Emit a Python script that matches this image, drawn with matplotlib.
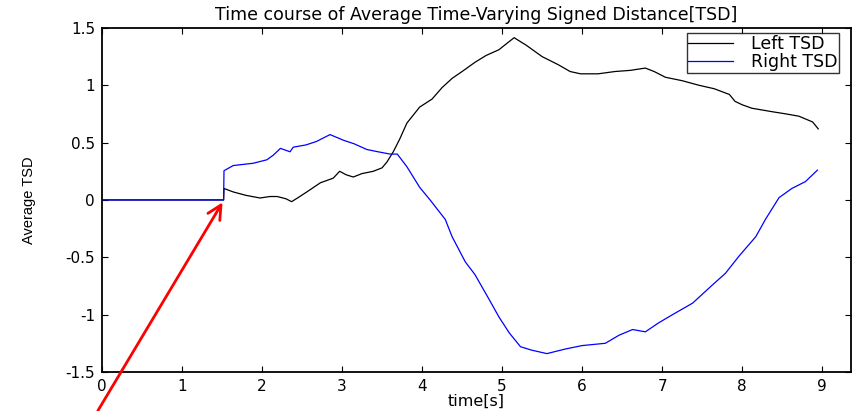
import numpy as np
import matplotlib
matplotlib.use('Agg')
import matplotlib.pyplot as plt

plt.rcParams['font.family'] = ['DejaVu Sans']

# Left TSD (black)
left_t = [0, 1.52, 1.525, 1.64, 1.8, 1.975, 2.1, 2.19, 2.3, 2.37, 2.45, 2.56, 2.73,
          2.89, 2.97, 3.05, 3.14, 3.25, 3.39, 3.5, 3.56, 3.64, 3.72, 3.81, 3.97, 4.125,
          4.25, 4.375, 4.5, 4.66, 4.8, 4.96, 5.05, 5.15, 5.3, 5.5, 5.7, 5.85, 5.98,
          6.2, 6.41, 6.6, 6.79, 6.9, 7.04, 7.25, 7.46, 7.65, 7.84, 7.91, 8.0, 8.12,
          8.37, 8.55, 8.71, 8.88, 8.95]
left_v = [0, 0, 0.10, 0.07, 0.04, 0.017, 0.03, 0.03, 0.01, -0.015, 0.02, 0.07, 0.15,
          0.19, 0.25, 0.22, 0.20, 0.23, 0.25, 0.28, 0.33, 0.42, 0.53, 0.67, 0.81, 0.88,
          0.98, 1.06, 1.12, 1.20, 1.26, 1.31, 1.36, 1.415, 1.35, 1.25, 1.18, 1.12, 1.10,
          1.10, 1.12, 1.13, 1.15, 1.12, 1.07, 1.04, 1.00, 0.97, 0.92, 0.86, 0.83, 0.80,
          0.77, 0.75, 0.73, 0.68, 0.62]

# Right TSD (blue)
right_t = [0, 1.52, 1.525, 1.64, 1.89, 2.06, 2.14, 2.23, 2.35, 2.39, 2.55, 2.68, 2.85,
           3.02, 3.15, 3.31, 3.45, 3.6, 3.69, 3.81, 3.97, 4.1, 4.29, 4.375, 4.54, 4.66,
           4.84, 4.96, 5.09, 5.23, 5.37, 5.56, 5.79, 6.0, 6.29, 6.46, 6.63, 6.79, 6.96,
           7.13, 7.38, 7.63, 7.79, 7.96, 8.17, 8.29, 8.46, 8.62, 8.79, 8.94]
right_v = [0, 0, 0.255, 0.30, 0.32, 0.35, 0.39, 0.45, 0.42, 0.46, 0.48, 0.51, 0.57,
           0.52, 0.49, 0.44, 0.42, 0.40, 0.40, 0.29, 0.11, 0.0, -0.17, -0.32, -0.54, -0.65,
           -0.87, -1.02, -1.16, -1.28, -1.31, -1.34, -1.30, -1.27, -1.25, -1.18, -1.13,
           -1.15, -1.07, -1.00, -0.90, -0.74, -0.64, -0.49, -0.32, -0.17, 0.02, 0.10,
           0.16, 0.26]

fig = plt.figure(figsize=(8.64, 4.11), dpi=100)
ax = fig.add_axes([0.118, 0.095, 0.867, 0.837])

ax.plot(left_t, left_v, color='black', lw=0.9, label='Left TSD')
ax.plot(right_t, right_v, color='blue', lw=0.9, label='Right TSD')

ax.set_xlim(0, 9.36)
ax.set_ylim(-1.5, 1.5)
ax.set_xticks(np.arange(0, 10, 1))
ax.set_yticks([-1.5, -1, -0.5, 0, 0.5, 1, 1.5])
ax.set_yticklabels(['-1.5', '-1', '-0.5', '0', '0.5', '1', '1.5'])
ax.tick_params(direction='in', top=True, right=True, length=4, labelsize=11, pad=5)
for s in ax.spines.values():
    s.set_linewidth(1.3)

ax.set_title('Time course of Average Time-Varying Signed Distance[TSD]', fontsize=12.5, pad=6)
ax.set_xlabel('time[s]', fontsize=11.5, labelpad=0)
ax.set_ylabel('Average TSD', fontsize=10.5,
              family=['Liberation Sans Narrow', 'Liberation Sans'], labelpad=21)

leg = ax.legend(loc='upper right', bbox_to_anchor=(0.984, 0.985), borderaxespad=0,
                fontsize=12.5, frameon=True, fancybox=False, edgecolor='black',
                handlelength=2.6, borderpad=0.1, labelspacing=0.0, handletextpad=1.0)
leg.get_frame().set_linewidth(1.0)

# red arrow pointing at the onset
ax.annotate('', xy=(1.525, 0), xytext=(-0.07, -1.86), xycoords='data',
            arrowprops=dict(arrowstyle='->', color='red', lw=2, mutation_scale=25),
            annotation_clip=False)

fig.savefig('out.png', dpi=100)
